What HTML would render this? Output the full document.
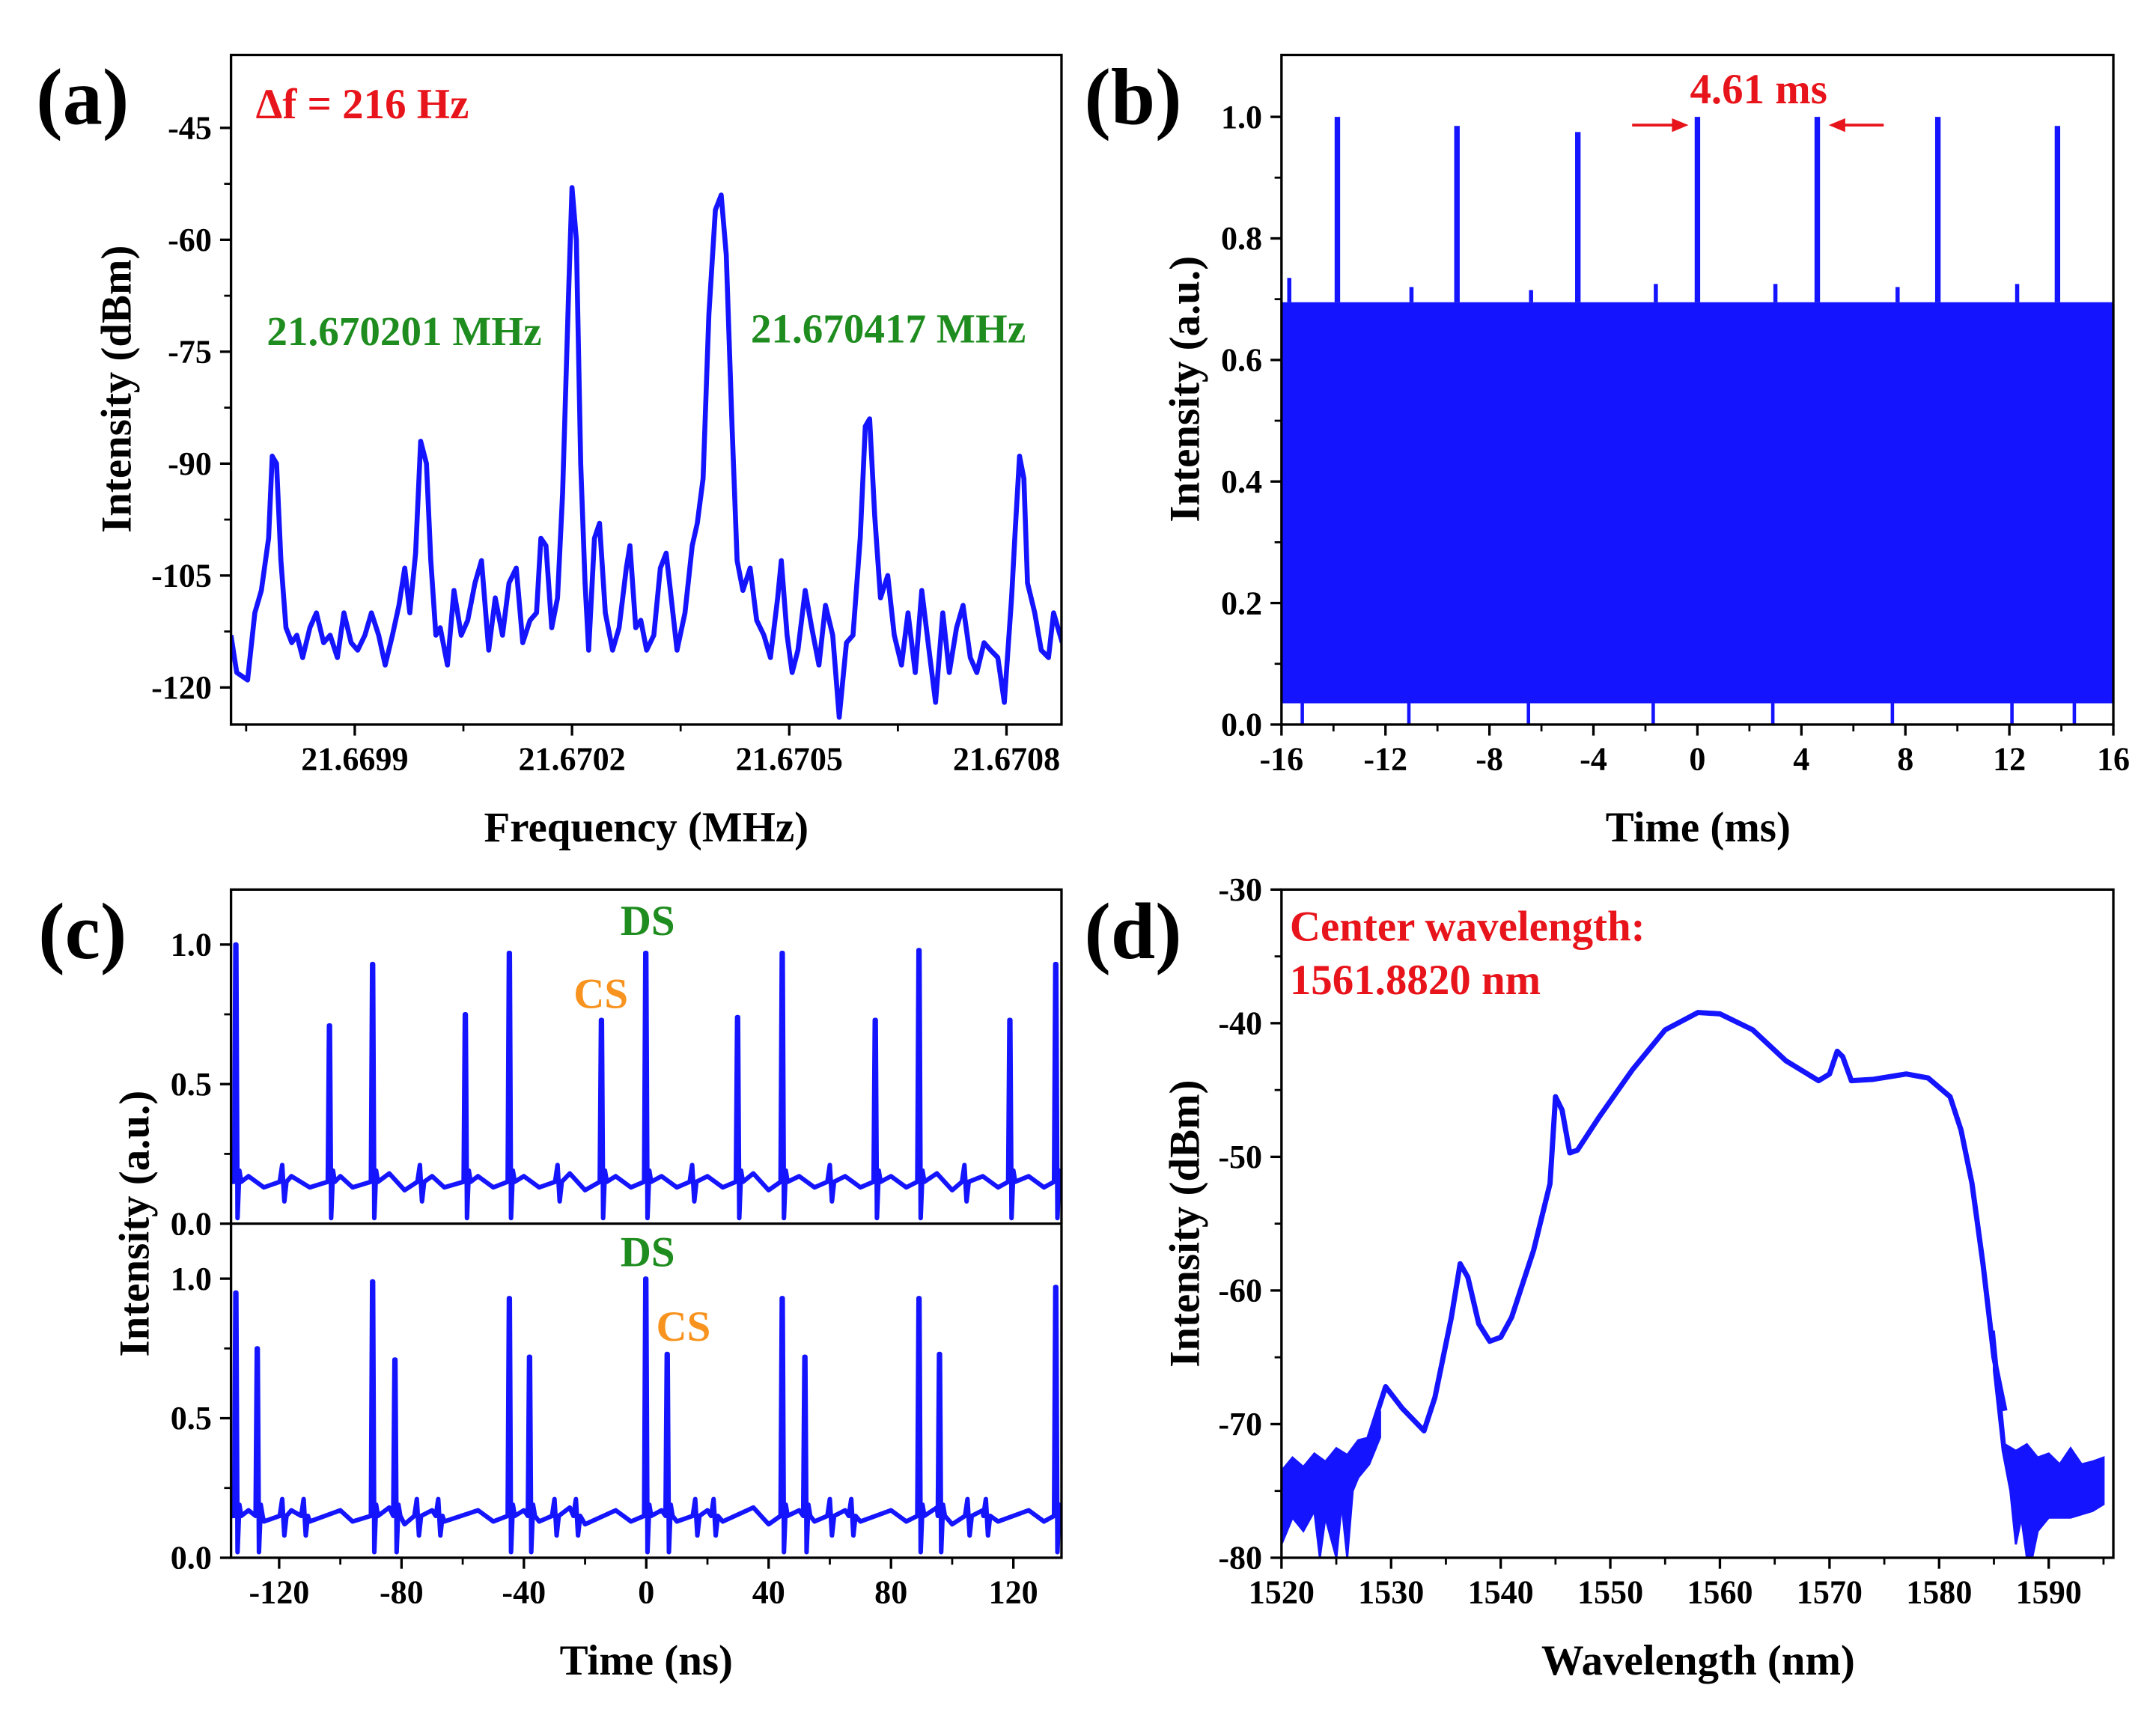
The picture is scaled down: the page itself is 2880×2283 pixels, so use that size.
<!DOCTYPE html>
<html><head><meta charset="utf-8"><style>
html,body{margin:0;padding:0;background:#fff}
svg{display:block}
text{font-family:"Liberation Serif",serif;font-weight:bold}
</style></head><body>
<svg id="fig" width="2880" height="2283" viewBox="0 0 1568 1243" xmlns="http://www.w3.org/2000/svg">
<rect width="1568" height="1243" fill="#fff"/>
<g id="root"></g>
</svg>
<script>
// ---- Panel (a) data: Hz above 21.6697 MHz, dBm ----
const aFreq=[29,37,52,62,71,81,86,92,98,105,113,120,128,138,147,157,166,176,185,195,204,214,223,233,242,252,261,269,276,284,291,299,305,312,318,328,337,347,356,366,375,385,394,404,413,423,432,442,451,457,464,472,480,487,495,500,506,512,518,523,531,538,546,556,565,575,580,588,595,603,613,622,630,637,645,656,666,673,681,689,698,706,713,721,728,736,746,755,765,774,784,789,797,804,812,822,831,841,850,860,869,879,888,898,905,911,918,926,936,945,955,964,974,983,993,1002,1012,1021,1031,1040,1050,1059,1069,1078,1088,1097,1107,1112,1118,1124,1129,1139,1148,1158,1165,1177];
const aPow=[-113,-118,-119,-110,-107,-100,-89,-90,-103,-112,-114,-113,-116,-112,-110,-114,-113,-116,-110,-114,-115,-113,-110,-113,-117,-113,-109,-104,-110,-102,-87,-90,-103,-113,-112,-117,-107,-113,-111,-106,-103,-115,-108,-113,-106,-104,-114,-111,-110,-100,-101,-112,-108,-94,-68,-53,-60,-90,-106,-115,-100,-98,-110,-115,-112,-104,-101,-112,-111,-115,-113,-104,-102,-108,-115,-110,-101,-98,-92,-70,-56,-54,-62,-85,-103,-107,-104,-111,-113,-116,-108,-103,-113,-118,-115,-107,-112,-117,-109,-113,-124,-114,-113,-100,-85,-84,-97,-108,-105,-113,-117,-110,-118,-107,-115,-122,-110,-118,-112,-109,-116,-118,-114,-115,-116,-122,-108,-99,-89,-92,-106,-110,-115,-116,-110,-114];
const aXTicks=["21.6699","21.6702","21.6705","21.6708"];
const aXTickVals=[200,500,800,1100];
const aYTicks=[-45,-60,-75,-90,-105,-120];
// ---- Panel (b) data ----
const bPulseT=[-13.85,-9.25,-4.6,0,4.61,9.25,13.85];
const bPulseH=[1.0,0.985,0.975,1.0,1.0,1.0,0.985];
const bBumpT=[-15.7,-11.0,-6.4,-1.6,3.0,7.7,12.3];
const bBumpH=[0.735,0.72,0.715,0.725,0.725,0.72,0.725];
const bBandLow=0.035, bBandHigh=0.695;
const bDipT=[-15.2,-11.1,-6.5,-1.7,2.9,7.5,12.1,14.5];
const bXTicks=[-16,-12,-8,-4,0,4,8,12,16];
const bYTicks=[0,0.2,0.4,0.6,0.8,1.0];
// ---- Panel (c) data ----
const cTopT=[-134,-103.4,-89.3,-59,-44.6,-14.5,0,30,44.6,75,89.3,119,134];
const cTopH=[1.0,0.71,0.93,0.75,0.97,0.73,0.97,0.74,0.97,0.73,0.98,0.73,0.93];
const cBotT=[-134,-127,-89.3,-82,-44.6,-38,0,7,44.6,52,89.3,96,134];
const cBotH=[0.95,0.75,0.99,0.71,0.93,0.72,1.0,0.73,0.93,0.72,0.93,0.73,0.97];
const cTopBumpT=[-119,-74,-29,15,60,104];
const cBotBumpT=[-119,-112,-75,-68,-30,-23,16,22,60,67,105,111];
const cBase=0.15;
const cNoiseT=[-130,-125,-116,-110,-100,-96,-84,-79,-70,-66,-55,-50,-40,-35,-25,-20,-10,-5,5,10,20,25,35,40,50,55,65,70,80,85,95,100,110,115,125,130];
const cNoiseV=[0.17,0.13,0.17,0.13,0.17,0.13,0.18,0.12,0.17,0.13,0.17,0.13,0.17,0.13,0.18,0.12,0.17,0.13,0.17,0.13,0.17,0.13,0.18,0.12,0.17,0.13,0.17,0.13,0.17,0.13,0.18,0.12,0.17,0.13,0.17,0.13];
const cXTicks=[-120,-80,-40,0,40,80,120];
const cYTicks=[0,0.5,1.0];
// ---- Panel (d) data ----
const dWl=[1528,1529.5,1531,1533,1534,1535.5,1536.3,1537,1538,1539,1540,1541,1543,1544.5,1545,1545.6,1546.3,1547,1549,1552,1555,1558,1560,1563,1566,1569,1570,1570.7,1571.2,1572,1574,1577,1579,1581,1582,1583,1584,1585,1586];
const dPow=[-71,-67.2,-68.8,-70.5,-68,-62,-58,-59,-62.5,-63.8,-63.5,-62,-57,-52,-45.5,-46.5,-49.7,-49.5,-47,-43.5,-40.5,-39.2,-39.3,-40.5,-42.8,-44.3,-43.8,-42.1,-42.5,-44.3,-44.2,-43.8,-44.1,-45.5,-48,-52,-58,-65,-69];
const dNLUpWl=[1520,1521,1522,1523,1524,1525,1526,1527,1528,1529];
const dNLUpP=[-73.5,-72.5,-73.2,-72.2,-72.8,-71.8,-72.3,-71.2,-71,-69];
const dNLLoWl=[1520,1521,1522,1523,1523.5,1524,1525,1525.5,1526,1526.5,1527,1528,1529];
const dNLLoP=[-79,-77,-78,-76.5,-80,-77,-80,-76,-80,-75,-74,-73,-71];
const dNRUpWl=[1585,1586,1587,1588,1589,1590,1591,1592,1593,1594,1595];
const dNRUpP=[-63,-71.5,-72,-71.5,-72.5,-72.2,-73,-71.8,-73,-72.8,-72.5];
const dNRLoWl=[1585,1585.8,1586.5,1587,1587.5,1588,1588.5,1589,1590,1592,1594,1595];
const dNRLoP=[-66,-72,-75,-79,-77,-80,-80,-78,-77,-77,-76.5,-76];
const dXTicks=[1520,1530,1540,1550,1560,1570,1580,1590];
const dYTicks=[-30,-40,-50,-60,-70,-80];

const NS="http://www.w3.org/2000/svg";
const root=document.getElementById('root');
function el(tag,attrs,parent,txt){const e=document.createElementNS(NS,tag);for(const k in attrs)e.setAttribute(k,attrs[k]);if(txt!==undefined)e.textContent=txt;(parent||root).appendChild(e);return e;}
function lin(d0,d1,r0,r1){return v=>r0+(v-d0)/(d1-d0)*(r1-r0);}
const BLUE="#1414ff";
const TF=24;

function frame(g,x0,y0,x1,y1){
  const r=el('rect',{x:x0,y:y0,width:x1-x0,height:y1-y0,fill:'none',stroke:'#000','stroke-width':1.8},g);
  
  
}
function xTicks(g,sx,vals,labels,yb,minor){
  vals.forEach((v,i)=>{
    el('line',{x1:sx(v),x2:sx(v),y1:yb,y2:yb+8,stroke:'#000','stroke-width':1.8},g);
    const t=el('text',{x:sx(v),y:yb+33,'font-size':TF,'text-anchor':'middle'},g,labels[i]);
    
    
  });
  (minor||[]).forEach(v=>el('line',{x1:sx(v),x2:sx(v),y1:yb,y2:yb+5,stroke:'#000','stroke-width':1.5},g));
}
function yTicks(g,sy,vals,labels,xl,minor){
  vals.forEach((v,i)=>{
    el('line',{x1:xl-8,x2:xl,y1:sy(v),y2:sy(v),stroke:'#000','stroke-width':1.8},g);
    const t=el('text',{x:xl-14,y:sy(v)+8,'font-size':TF,'text-anchor':'end'},g,labels[i]);
    
    
  });
  (minor||[]).forEach(v=>el('line',{x1:xl-5,x2:xl,y1:sy(v),y2:sy(v),stroke:'#000','stroke-width':1.5},g));
}
function label(g,x,y,s,size,fill,name,rot){
  const a={x:x,y:y,'font-size':size,'text-anchor':'middle',fill:fill||'#000'};
  if(rot)a.transform=`rotate(-90 ${x} ${y})`;
  const t=el('text',a,g,s);
  
  
  return t;
}
function poly(g,pts,name,w){
  const p=el('polyline',{points:pts.map(q=>q[0].toFixed(2)+','+q[1].toFixed(2)).join(' '),fill:'none',stroke:BLUE,'stroke-width':w||3.5,'stroke-linejoin':'round'},g);
  
  
  return p;
}

// ===== Panel a =====
{
 const g=el('g',{});  
 const X0=168,X1=772,Y0=40,Y1=527;
 const sx=lin(200,1100,258,732), sy=lin(-45,-120,93,500);
 const clip=el('clipPath',{id:'ca'},g); el('rect',{x:X0,y:Y0,width:X1-X0,height:Y1-Y0},clip);
 const gg=el('g',{'clip-path':'url(#ca)'},g);
 poly(gg,aFreq.map((f,i)=>[sx(f),sy(aPow[i])]),'spectrum-trace',3.6);
 frame(g,X0,Y0,X1,Y1);
 xTicks(g,sx,aXTickVals,aXTicks,Y1,[50,350,650,950]);
 yTicks(g,sy,aYTicks,aYTicks.map(String),X0,[-52.5,-67.5,-82.5,-97.5,-112.5]);
 label(g,470,612,'Frequency (MHz)',31,'#000','x-axis-title');
 label(g,95,283,'Intensity (dBm)',31,'#000','y-axis-title',true);
 label(g,60,90,'(a)',58,'#000','panel-label-a');
 const t=el('text',{x:186,y:86,'font-size':31,fill:'#e8141b'},g,'Δf = 216 Hz');
 label(g,294,251,'21.670201 MHz',30,'#1e8c1e','left-peak-label');
 label(g,646,249,'21.670417 MHz',30,'#1e8c1e','right-peak-label');
}
// ===== Panel b =====
{
 const g=el('g',{});  
 const X0=932,X1=1537,Y0=40,Y1=527;
 const sx=lin(-16,16,X0,X1), sy=lin(0,1,527,85);
 const r=el('rect',{x:X0,y:sy(bBandHigh),width:X1-X0,height:sy(bBandLow)-sy(bBandHigh),fill:BLUE},g);
  
 bPulseT.forEach((t,i)=>{const l=el('line',{x1:sx(t),x2:sx(t),y1:sy(bBandHigh),y2:sy(bPulseH[i]),stroke:BLUE,'stroke-width':4},g);});
 bBumpT.forEach((t,i)=>el('line',{x1:sx(t),x2:sx(t),y1:sy(bBandHigh),y2:sy(bBumpH[i]),stroke:BLUE,'stroke-width':3},g));
 bDipT.forEach(t=>el('line',{x1:sx(t),x2:sx(t),y1:sy(bBandLow),y2:sy(0),stroke:BLUE,'stroke-width':2.5},g));
 frame(g,X0,Y0,X1,Y1);
 xTicks(g,sx,bXTicks,bXTicks.map(String),Y1,[-14,-10,-6,-2,2,6,10,14]);
 yTicks(g,sy,bYTicks,bYTicks.map(v=>v.toFixed(1)),X0,[0.1,0.3,0.5,0.7,0.9]);
 label(g,1235,612,'Time (ms)',31,'#000','x-axis-title');
 label(g,872,283,'Intensity (a.u.)',31,'#000','y-axis-title',true);
 label(g,824,90,'(b)',58,'#000','panel-label-b');
 label(g,1279,75,'4.61 ms',31,'#e8141b','period-annotation');
 const a1=el('g',{},g);
 el('line',{x1:1187,x2:1218,y1:91,y2:91,stroke:'#e8141b','stroke-width':2},a1);
 el('polygon',{points:'1228,91 1216,86 1216,96',fill:'#e8141b'},a1);
 el('line',{x1:1340,x2:1370,y1:91,y2:91,stroke:'#e8141b','stroke-width':2},a1);
 el('polygon',{points:'1330,91 1342,86 1342,96',fill:'#e8141b'},a1);
}
// ===== Panel c =====
function spikeTrace(T,H,bumps,sx,sy){
  const ev=[];
  T.forEach((t,i)=>{ev.push([t-0.7,cBase],[t-0.3,H[i]],[t,H[i]],[t+0.4,0.02],[t+1.0,cBase+0.04],[t+1.6,cBase]);});
  bumps.forEach(t=>{ev.push([t-0.8,cBase],[t,cBase+0.06],[t+0.7,cBase-0.07],[t+1.4,cBase]);});
  cNoiseT.forEach((t,i)=>{ev.push([t,cNoiseV[i]]);});
  ev.sort((a,b)=>a[0]-b[0]);
  const pts=[[-136,cBase]];
  ev.forEach(p=>pts.push(p));
  pts.push([136,cBase]);
  return pts.map(p=>[sx(p[0]),sy(p[1])]);
}
{
 const g=el('g',{});  
 const X0=168,X1=772,Y0=647,YM=890,Y1=1133;
 const sx=lin(-120,120,203,737), syT=lin(0,1,890,687), syB=lin(0,1,1133,930);
 const clip=el('clipPath',{id:'cc'},g); el('rect',{x:X0,y:Y0,width:X1-X0,height:Y1-Y0},clip);
 const gg=el('g',{'clip-path':'url(#cc)'},g);
 poly(gg,spikeTrace(cTopT,cTopH,cTopBumpT,sx,syT),'top-pulse-trace',3.3);
 poly(gg,spikeTrace(cBotT,cBotH,cBotBumpT,sx,syB),'bottom-pulse-trace',3.3);
 frame(g,X0,Y0,X1,Y1);
 el('line',{x1:X0,x2:X1,y1:YM,y2:YM,stroke:'#000','stroke-width':1.8},g);
 xTicks(g,sx,cXTicks,cXTicks.map(String),Y1,[-100,-60,-20,20,60,100]);
 yTicks(g,syT,cYTicks,cYTicks.map(v=>v.toFixed(1)),X0,[0.25,0.75]);
 yTicks(g,syB,cYTicks,cYTicks.map(v=>v.toFixed(1)),X0,[0.25,0.75]);
 label(g,470,1218,'Time (ns)',31,'#000','x-axis-title');
 label(g,108,890,'Intensity (a.u.)',31,'#000','y-axis-title',true);
 label(g,60,697,'(c)',58,'#000','panel-label-c');
 label(g,471,680,'DS',31,'#1e8c1e','ds-label-top');
 label(g,437,733,'CS',31,'#f7931e','cs-label-top');
 label(g,471,921,'DS',31,'#1e8c1e','ds-label-bottom');
 label(g,497,975,'CS',31,'#f7931e','cs-label-bottom');
}
// ===== Panel d =====
function band(g,upW,upP,loW,loP,sx,sy,name){
  const pts=upW.map((w,i)=>sx(w).toFixed(1)+','+sy(upP[i]).toFixed(1));
  for(let i=loW.length-1;i>=0;i--)pts.push(sx(loW[i]).toFixed(1)+','+sy(loP[i]).toFixed(1));
  const p=el('polygon',{points:pts.join(' '),fill:BLUE,stroke:BLUE,'stroke-width':1.5,'stroke-linejoin':'miter'},g);
  
  
}
{
 const g=el('g',{});  
 const X0=932,X1=1537,Y0=647,Y1=1133;
 const sx=lin(1520,1590,932,1490), sy=lin(-30,-80,647,1133);
 const clip=el('clipPath',{id:'cd'},g); el('rect',{x:X0,y:Y0,width:X1-X0,height:Y1-Y0},clip);
 const gg=el('g',{'clip-path':'url(#cd)'},g);
 band(gg,dNLUpWl,dNLUpP,dNLLoWl,dNLLoP,sx,sy,'noise-floor-left');
 band(gg,dNRUpWl,dNRUpP,dNRLoWl,dNRLoP,sx,sy,'noise-floor-right');
 poly(gg,dWl.map((w,i)=>[sx(w),sy(dPow[i])]),'optical-spectrum-trace',3.8);
 frame(g,X0,Y0,X1,Y1);
 xTicks(g,sx,dXTicks,dXTicks.map(String),Y1,[1525,1535,1545,1555,1565,1575,1585,1595]);
 yTicks(g,sy,dYTicks,dYTicks.map(String),X0,[-35,-45,-55,-65,-75]);
 label(g,1235,1218,'Wavelength (nm)',31,'#000','x-axis-title');
 label(g,872,890,'Intensity (dBm)',31,'#000','y-axis-title',true);
 label(g,824,697,'(d)',58,'#000','panel-label-d');
 const t1=el('text',{x:938,y:684,'font-size':31,fill:'#e8141b'},g,'Center wavelength:');
 const t2=el('text',{x:938,y:723,'font-size':31,fill:'#e8141b'},g,'1561.8820 nm');
}
</script>
</body></html>
